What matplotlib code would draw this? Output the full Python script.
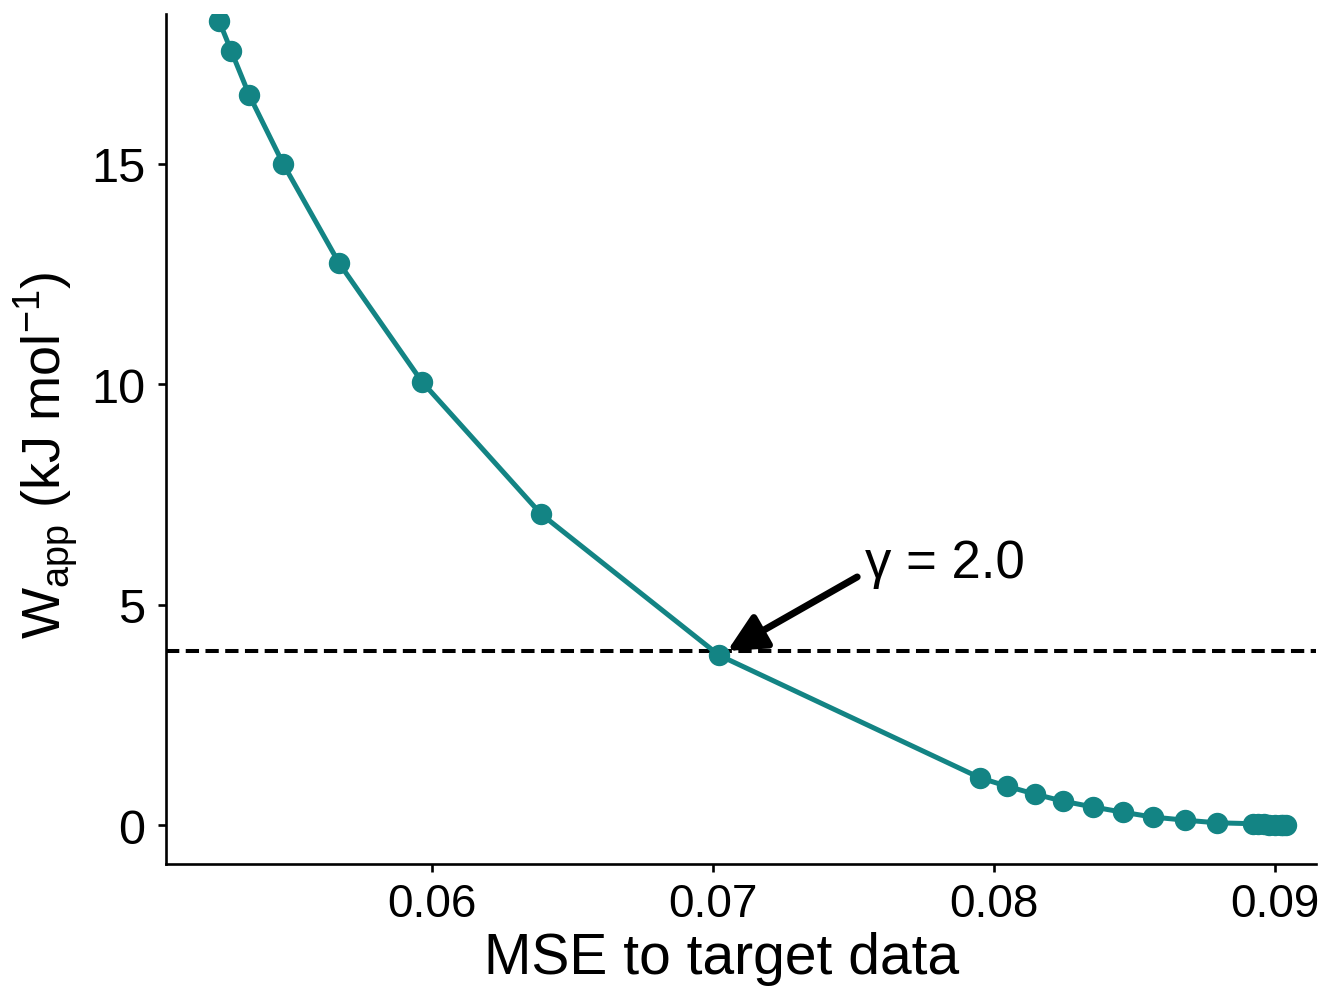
import matplotlib
matplotlib.use('Agg')
import matplotlib.pyplot as plt

plt.rcParams['font.family'] = ['Liberation Sans', 'DejaVu Sans']

# MSE to target data vs apparent work
mse = [0.05242, 0.05285, 0.05349, 0.0547, 0.05669, 0.05964, 0.06388, 0.07021,
       0.0795, 0.08046, 0.08146, 0.08246, 0.08352, 0.08459, 0.08566, 0.0868,
       0.08794, 0.0892, 0.0894, 0.0896, 0.0898, 0.0900, 0.0902, 0.0903, 0.0904]
w_app = [18.23, 17.55, 16.55, 14.99, 12.74, 10.05, 7.05, 3.85,
         1.07, 0.88, 0.70, 0.54, 0.41, 0.29, 0.18, 0.11,
         0.05, 0.03, 0.02, 0.015, 0.01, 0.005, 0.0, 0.0, 0.0]
w_ref = 3.94
sel_idx = 7

teal = '#138484'

fig = plt.figure(figsize=(13.18, 9.87), dpi=100)
ax = fig.add_axes([0.126, 0.1236, 0.8725, 0.8612])

ax.axhline(w_ref, color='black', lw=2.9, dashes=(3.3, 1.6), zorder=1)
ax.plot(mse, w_app, color=teal, lw=3.6, marker='o', ms=14.4, zorder=3)

ax.annotate('\u03b3 = 2.0', xy=(mse[sel_idx] + 0.0003, w_app[sel_idx] + 0.1),
            xytext=(0.0754, 5.95), fontsize=38, va='center', ha='left',
            arrowprops=dict(arrowstyle='-|>,head_length=0.6,head_width=0.3',
                            color='black', lw=5, shrinkA=4, shrinkB=0,
                            relpos=(0, 0.3)))

ax.set_xlim(0.05053, 0.09146)
ax.set_ylim(-0.884, 18.39)
ax.set_xticks([0.06, 0.07, 0.08, 0.09])
ax.set_xticklabels(['0.06', '0.07', '0.08', '0.09'])
ax.set_yticks([0, 5, 10, 15])

for s in ['top', 'right']:
    ax.spines[s].set_visible(False)
for s in ['left', 'bottom']:
    ax.spines[s].set_linewidth(1.9)

ax.tick_params(axis='both', width=1.9, length=6, pad=7, colors='black')
ax.tick_params(axis='x', labelsize=33)
ax.tick_params(axis='y', labelsize=35, pad=9)

ax.set_xlabel('MSE to target data', fontsize=41, va='baseline')
ax.xaxis.set_label_coords(0.483, -0.128)
ax.set_ylabel(r'W$_{\mathregular{app}}$ (kJ mol$^{\mathregular{-1}}$)', fontsize=39,
              va='baseline')
ax.yaxis.set_label_coords(-0.091, 0.482)

fig.savefig('out.png', dpi=100)
